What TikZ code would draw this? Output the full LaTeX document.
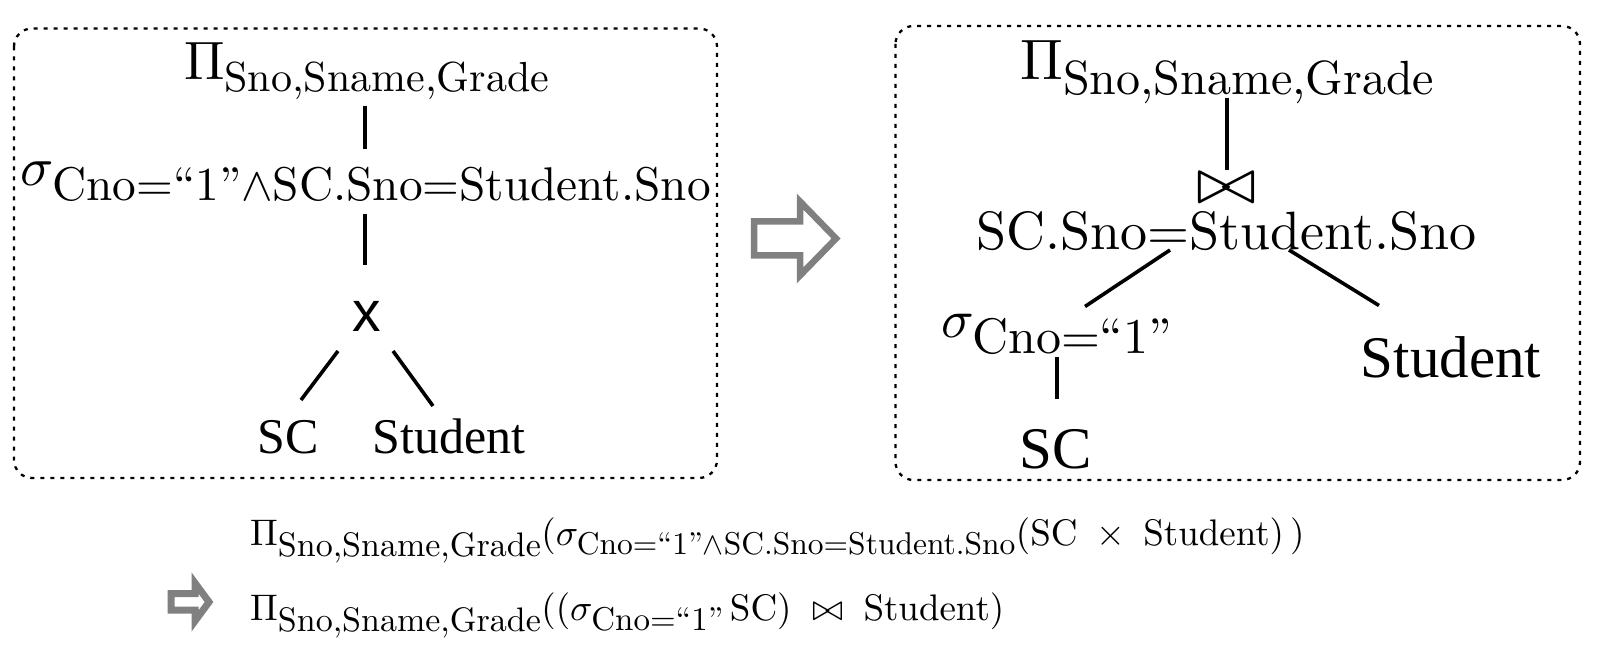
\RequirePackage{fix-cm}
\documentclass[tikz,border=0pt]{standalone}
\usepackage[no-math]{fontspec}
\setmainfont{lmroman10-regular.otf}
\newfontfamily\timesf{Liberation Serif}
\newfontfamily\arialf{Liberation Sans}
\DeclareFontShape{OT1}{cmr}{m}{n}{<->cmr10}{}
\DeclareFontShape{OML}{cmm}{m}{it}{<->cmmi10}{}
\newcommand{\fs}[1]{\fontsize{#1}{#1}\selectfont}
\newcommand{\tsub}[2]{\hbox{\fs{#1}#2}}
\begin{document}
\begin{tikzpicture}[x=1pt,y=-1pt,
  frame/.style={draw, line width=2.3pt, dash pattern=on 4pt off 6pt, rounded corners=18pt},
  edge/.style={line width=3.6pt},
  lbl/.style={inner sep=0pt, anchor=base},
  hollowarrow/.style={draw=black!50, line join=miter},
]
\useasboundingbox (0,0) rectangle (1614,660);

% frames
\draw[frame] (14,28.5) rectangle (717,478);
\draw[frame] (895.5,26) rectangle (1580,480);

% big arrow between trees
\draw[hollowarrow, line width=6.5pt] (754,221.5) -- (800,221.5) -- (800,201.5) -- (836,238.5) -- (800,275.5) -- (800,255.5) -- (754,255.5) -- cycle;

% ---------- left tree ----------
\node[lbl] (piL) at (367,80) {\fs{54}$\Pi_{\tsub{42}{Sno,Sname,Grade}}$};
\node[lbl] (sigL) at (366,186) {\fs{55}$\sigma_{\tsub{47.3}{Cno=“1”$\wedge$SC.Sno=Student.Sno}}$};
\node[lbl] (xL) at (366.5,331) {\arialf\fs{57}x};
\node[lbl] (scL) at (288,453) {\timesf\fs{50}SC};
\node[lbl] (stL) at (449,453) {\timesf\fs{50}Student};

\coordinate (piL-b) at (365,106);
\coordinate (sigL-t) at (365,149);
\coordinate (sigL-b) at (365,214);
\coordinate (xL-t) at (365,265);
\coordinate (xL-sw) at (338,351);
\coordinate (scL-n) at (301,400);
\coordinate (xL-se) at (393,351);
\coordinate (stL-n) at (433,406);
\draw[edge] (piL-b) -- (sigL-t);
\draw[edge] (sigL-b) -- (xL-t);
\draw[edge] (xL-sw) -- (scL-n);
\draw[edge] (xL-se) -- (stL-n);

% ---------- right tree ----------
\node[lbl] (piR) at (1227.5,80) {\fs{57}$\Pi_{\tsub{48}{Sno,Sname,Grade}}$};
\node[inner sep=0pt] (join) at (1226,188) {\fs{60}\scalebox{1.2}[1.08]{$\bowtie$}};
\node[lbl] (condR) at (1226.5,250) {\fs{54}SC.Sno=Student.Sno};
\node[lbl] (sigR) at (1057,337) {\fs{54}$\sigma_{\tsub{50}{Cno=“1”}}$};
\node[lbl] (scR) at (1056,468) {\timesf\fs{59}SC};
\node[lbl] (stR) at (1451,377) {\timesf\fs{59}Student};

\coordinate (piR-b) at (1227,98);
\coordinate (join-t) at (1227,170);
\coordinate (condR-sw) at (1170,250);
\coordinate (sigR-n) at (1085,306.5);
\coordinate (condR-se) at (1289,250);
\coordinate (stR-n) at (1379,305.5);
\coordinate (sigR-b) at (1057,357);
\coordinate (scR-n) at (1057,399);
\draw[edge] (piR-b) -- (join-t);
\draw[edge] (condR-sw) -- (sigR-n);
\draw[edge] (condR-se) -- (stR-n);
\draw[edge] (sigR-b) -- (scR-n);

% ---------- formulas ----------
\node[lbl, anchor=base west] (f1) at (250,545) {\fs{37}$\Pi_{\tsub{34}{Sno,Sname,Grade}}\bigl(\sigma_{\tsub{31.5}{Cno=“1”$\wedge$SC.Sno=Student.Sno}}\bigl(\mathrm{SC}\;\times\;\mathrm{Student}\bigr)\,\bigr)$};
\node[lbl, anchor=base west] (f2) at (250,620) {\fs{37}$\Pi_{\tsub{34}{Sno,Sname,Grade}}\bigl(\bigl(\sigma_{\tsub{33}{Cno=“1”}}\,\mathrm{SC}\bigr)\;\bowtie\;\mathrm{Student}\bigr)$};

% small arrow
\draw[hollowarrow, line width=7pt] (171,593.5) -- (195,593.5) -- (195,583) -- (209,602) -- (195,621) -- (195,610) -- (171,610) -- cycle;
\end{tikzpicture}
\end{document}
